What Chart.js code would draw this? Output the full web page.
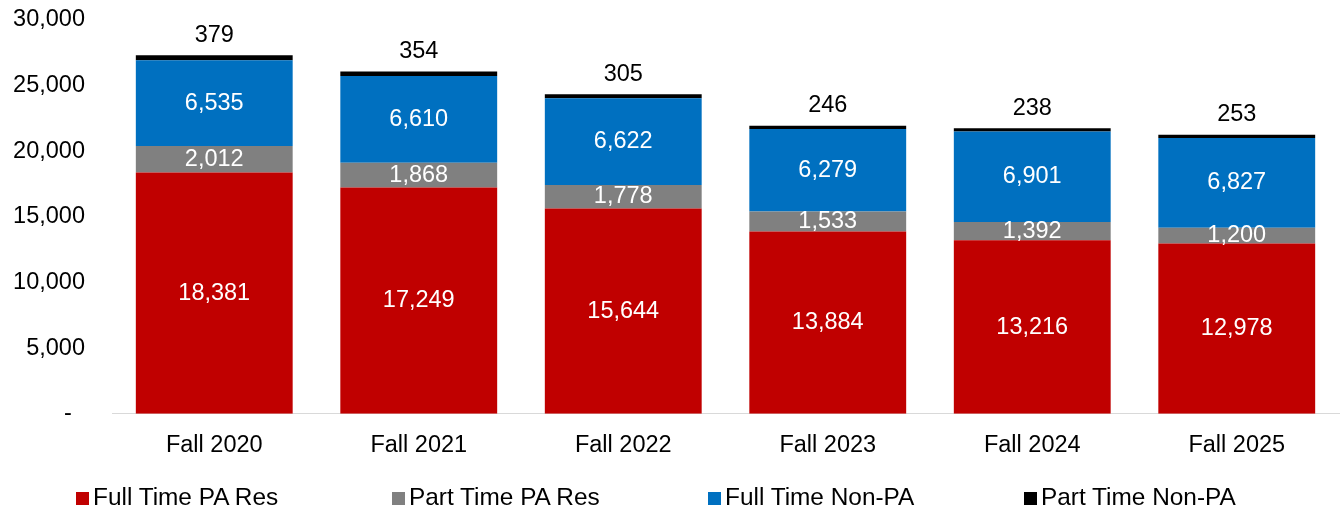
<!DOCTYPE html>
<html>
<head>
<meta charset="utf-8">
<script src="https://cdn.jsdelivr.net/npm/chart.js@4"></script>
<style>
  body { margin: 0; background: #fff; }
  #wrap { position: relative; width: 1340px; height: 515px; }
  #legend { position: absolute; left: 76px; top: 483px; white-space: nowrap; font: 24.4px "Liberation Sans", Arial, sans-serif; color: #000; }
  #legend .item { display: inline-block; width: 316px; }
  #legend .box { display: inline-block; width: 13px; height: 13px; margin-right: 4px; }
</style>
</head>
<body>
<div id="wrap">
  <canvas id="grafico" width="1340" height="515"></canvas>
  <div id="legend"></div>
</div>
<script>
const categorias = ['Fall 2020', 'Fall 2021', 'Fall 2022', 'Fall 2023', 'Fall 2024', 'Fall 2025'];
const fullTimePA = [18381, 17249, 15644, 13884, 13216, 12978];
const partTimePA = [2012, 1868, 1778, 1533, 1392, 1200];
const fullTimeNonPA = [6535, 6610, 6622, 6279, 6901, 6827];
const partTimeNonPA = [379, 354, 305, 246, 238, 253];
const yTicks = [0, 5000, 10000, 15000, 20000, 25000, 30000];

const series = [
  { label: 'Full Time PA Res', data: fullTimePA, color: '#C00000' },
  { label: 'Part Time PA Res', data: partTimePA, color: '#808080' },
  { label: 'Full Time Non-PA', data: fullTimeNonPA, color: '#0070C0' },
  { label: 'Part Time Non-PA', data: partTimeNonPA, color: '#000000' }
];

const fuente = '"Liberation Sans", Arial, sans-serif';
const tam = 23.5;

// etiquetas de valores dentro de cada barra
const etiquetas = {
  id: 'etiquetas',
  afterDatasetsDraw(chart) {
    const ctx = chart.ctx;
    ctx.save();
    ctx.font = tam + 'px ' + fuente;
    ctx.textAlign = 'center';
    ctx.textBaseline = 'middle';
    chart.data.datasets.forEach((ds, i) => {
      const meta = chart.getDatasetMeta(i);
      meta.data.forEach((bar, j) => {
        const txt = ds.data[j].toLocaleString('en-US');
        if (i === chart.data.datasets.length - 1) {
          ctx.fillStyle = '#000';
          ctx.fillText(txt, bar.x, bar.y - 20);
        } else {
          ctx.fillStyle = '#fff';
          ctx.fillText(txt, bar.x, (bar.y + bar.base) / 2);
        }
      });
    });
    ctx.restore();
  }
};

new Chart(document.getElementById('grafico').getContext('2d'), {
  type: 'bar',
  data: {
    labels: categorias,
    datasets: series.map(s => ({
      label: s.label,
      data: s.data,
      backgroundColor: s.color,
      barPercentage: 0.767,
      categoryPercentage: 1
    }))
  },
  options: {
    responsive: false,
    animation: false,
    layout: { padding: { top: 20, right: 1, bottom: 45, left: 0 } },
    plugins: { legend: { display: false }, tooltip: { enabled: false } },
    scales: {
      x: {
        stacked: true,
        grid: { display: false },
        border: { display: true, color: '#d9d9d9', width: 1 },
        ticks: { color: '#000', font: { family: fuente, size: tam }, padding: 10 }
      },
      y: {
        stacked: true,
        min: 0,
        max: 30000,
        afterFit(scale) {
          scale.width = 112;
          scale.paddingTop = 0;
          scale.paddingBottom = 0;
        },
        afterBuildTicks(scale) { scale.ticks = yTicks.map(v => ({ value: v })); },
        grid: { display: false },
        border: { display: false },
        ticks: {
          color: '#000',
          font: { family: fuente, size: tam },
          padding: 19,
          // formato contable: el cero se muestra como guion
          callback: v => v === 0 ? '-  ' : v.toLocaleString('en-US')
        }
      }
    }
  },
  plugins: [etiquetas]
});

document.getElementById('legend').innerHTML = series.map(s =>
  `<span class="item"><span class="box" style="background:${s.color}"></span>${s.label}</span>`
).join('');
</script>
</body>
</html>
